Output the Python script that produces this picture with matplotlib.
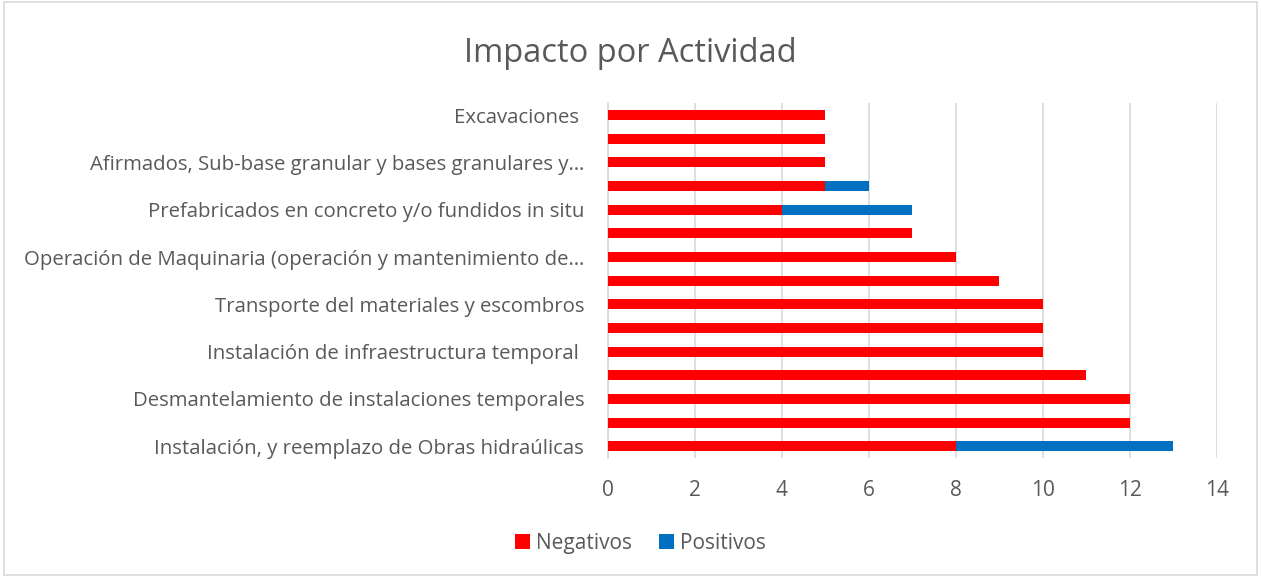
import matplotlib.pyplot as plt
import numpy as np

plt.rcParams['font.family'] = ['Open Sans', 'DejaVu Sans']

# activities from bottom to top (Excel only shows every other label)
actividades = [
    'Instalación, y reemplazo de Obras hidraúlicas',
    '',
    'Desmantelamiento de instalaciones temporales',
    '',
    'Instalación de infraestructura temporal ',
    '',
    'Transporte del materiales y escombros',
    '',
    'Operación de Maquinaria (operación y mantenimiento de…',
    '',
    'Prefabricados en concreto y/o fundidos in situ',
    '',
    'Afirmados, Sub-base granular y bases granulares y…',
    '',
    'Excavaciones ',
]
negativos = [8, 12, 12, 11, 10, 10, 10, 9, 8, 7, 4, 5, 5, 5, 5]
positivos = [5, 0, 0, 0, 0, 0, 0, 0, 0, 0, 3, 1, 0, 0, 0]

ROJO = '#FF0000'
AZUL = '#0070C0'
GRIS = '#595959'

fig = plt.figure(figsize=(12.61, 5.77), dpi=100)
ax = fig.add_axes([0.482, 0.206, 0.483, 0.615])

y = np.arange(len(actividades))
ax.barh(y, negativos, height=0.42, color=ROJO, label='Negativos', zorder=3)
ax.barh(y, positivos, left=negativos, height=0.42, color=AZUL,
        label='Positivos', zorder=3)

ax.set_xlim(0, 14)
ax.set_ylim(-0.5, len(actividades) - 0.5)
ax.set_xticks(range(0, 15, 2))
ax.set_yticks(y)
ax.set_yticklabels(actividades)
ax.tick_params(axis='y', length=0, pad=17, labelsize=14.7, labelcolor=GRIS)
ax.tick_params(axis='x', length=0, pad=16, labelsize=15, labelcolor=GRIS)
ax.grid(axis='x', color='#D9D9D9', linewidth=1.2, zorder=0)
for s in ['top', 'right', 'bottom']:
    ax.spines[s].set_visible(False)
ax.spines['left'].set_color('#D9D9D9')
ax.spines['left'].set_linewidth(1.2)

fig.text(0.5, 0.907, 'Impacto por Actividad', ha='center', va='center',
         fontsize=23.5, color=GRIS)

fig.legend(loc='center', bbox_to_anchor=(0.508, 0.058), ncol=2, frameon=False,
           fontsize=15, labelcolor=GRIS, handlelength=0.7, handleheight=0.7,
           handletextpad=0.3, columnspacing=1.3)

# light border around the chart area
fig.patches.append(plt.Rectangle((0.003, 0.004), 0.994, 0.992,
                                 transform=fig.transFigure, fill=False,
                                 edgecolor='#D9D9D9', linewidth=1.2))

fig.savefig('out.png', dpi=100)
